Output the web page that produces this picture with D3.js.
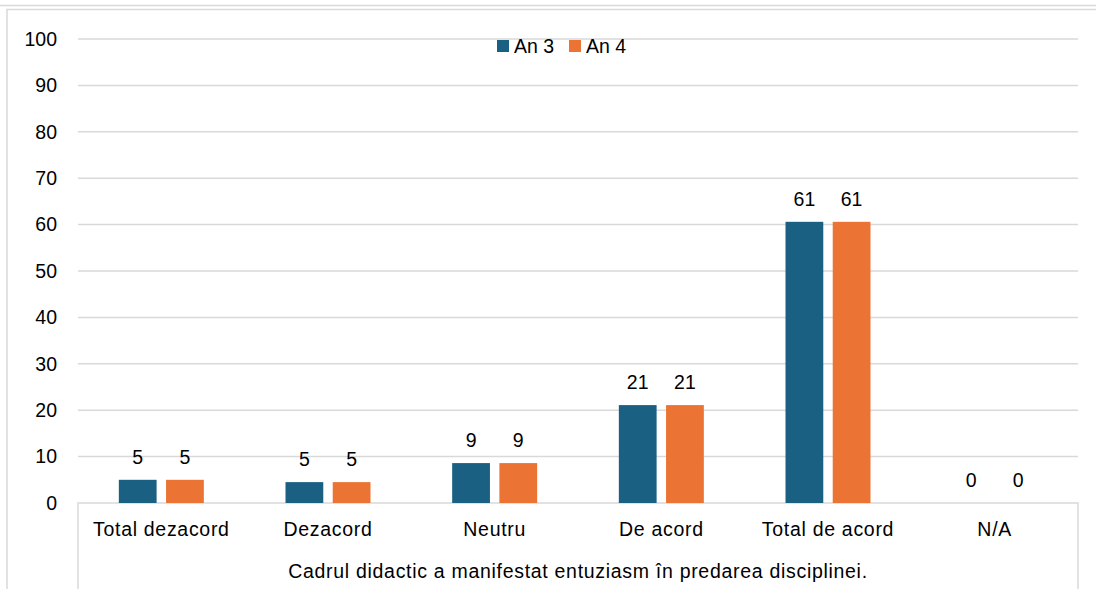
<!DOCTYPE html>
<html><head><meta charset="utf-8">
<script src="https://cdn.jsdelivr.net/npm/d3@7"></script>
<style>body{margin:0;background:#fff}svg{display:block}text{font-family:"Liberation Sans",Arial,sans-serif;fill:#000}</style>
</head><body>
<script>
const categories = ["Total dezacord","Dezacord","Neutru","De acord","Total de acord","N/A"];
const seriesNames = ["An 3","An 4"];
const an3 = [5.0, 4.5, 8.6, 21.1, 60.6, 0];
const an4 = [5.0, 4.5, 8.6, 21.1, 60.6, 0];
const yTicks = [0,10,20,30,40,50,60,70,80,90,100];
const axisTitle = "Cadrul didactic a manifestat entuziasm în predarea disciplinei.";
const colors = ["#1a6083","#eb7434"];

(function(){
const W=1096,H=589,FS=19.5,LS=0.7;
const svg=d3.select("body").append("svg").attr("width",W).attr("height",H);
const grid="#d9d9d9";
svg.append("line").attr("x1",0).attr("x2",W).attr("y1",5.5).attr("y2",5.5).attr("stroke",grid).attr("stroke-width",1.5);
svg.append("path").attr("d",`M7,${H} V9.5 H${W}`).attr("fill","none").attr("stroke",grid).attr("stroke-width",1.5);

const pl=78,pr=1078,pt=39,pb=503;
const x=d3.scaleBand().domain(categories).range([pl,pr]);
const y=d3.scaleLinear().domain([0,100]).range([pb,pt]);
const groupW=x.bandwidth()*0.51;
const xs=d3.scaleBand().domain(seriesNames).range([0,groupW]).paddingInner(0.2);

svg.append("g").selectAll("line").data(yTicks.filter(d=>d>0)).join("line")
 .attr("x1",pl).attr("x2",pr).attr("y1",d=>y(d)).attr("y2",d=>y(d))
 .attr("stroke",grid).attr("stroke-width",1.5);

const yAxis=d3.axisLeft(y).tickValues(yTicks).tickSize(0).tickPadding(21);
const ya=svg.append("g").attr("transform",`translate(${pl},0)`).call(yAxis);
ya.select(".domain").remove();
ya.selectAll("text").attr("font-size",FS).attr("font-family","Liberation Sans, Arial, sans-serif").attr("fill","#000");

svg.append("path").attr("d",`M${pl},${H} V${pb} H${pr} V${H}`).attr("fill","none").attr("stroke",grid).attr("stroke-width",1.5);

const data=categories.map((c,i)=>({c,vals:[an3[i],an4[i]]}));
const g=svg.append("g");
data.forEach(d=>{
  const x0=x(d.c)+(x.bandwidth()-groupW)/2;
  d.vals.forEach((v,j)=>{
    const bx=x0+xs(seriesNames[j]);
    g.append("rect").attr("x",bx).attr("width",xs.bandwidth()).attr("y",y(v)).attr("height",y(0)-y(v)).attr("fill",colors[j]);
    g.append("text").attr("x",bx+xs.bandwidth()/2).attr("y",y(v)-16).attr("text-anchor","middle").attr("font-size",FS).text(Math.round(v));
  });
});

const xa=d3.axisBottom(x).tickSize(0).tickPadding(0);
const xg=svg.append("g").attr("transform",`translate(0,${pb})`).call(xa);
xg.select(".domain").remove();
xg.selectAll("text").attr("font-size",FS).attr("letter-spacing",LS).attr("font-family","Liberation Sans, Arial, sans-serif").attr("fill","#000").attr("dy",null).attr("y",33);

svg.append("text").attr("x",(pl+pr)/2).attr("y",578).attr("text-anchor","middle").attr("font-size",FS).attr("letter-spacing",LS).text(axisTitle);

const lx=[497,569];
seriesNames.forEach((s,j)=>{
  svg.append("rect").attr("x",lx[j]).attr("y",40).attr("width",12).attr("height",12).attr("fill",colors[j]);
  svg.append("text").attr("x",lx[j]+17).attr("y",53).attr("font-size",FS).text(s);
});
})();
</script>
</body></html>
